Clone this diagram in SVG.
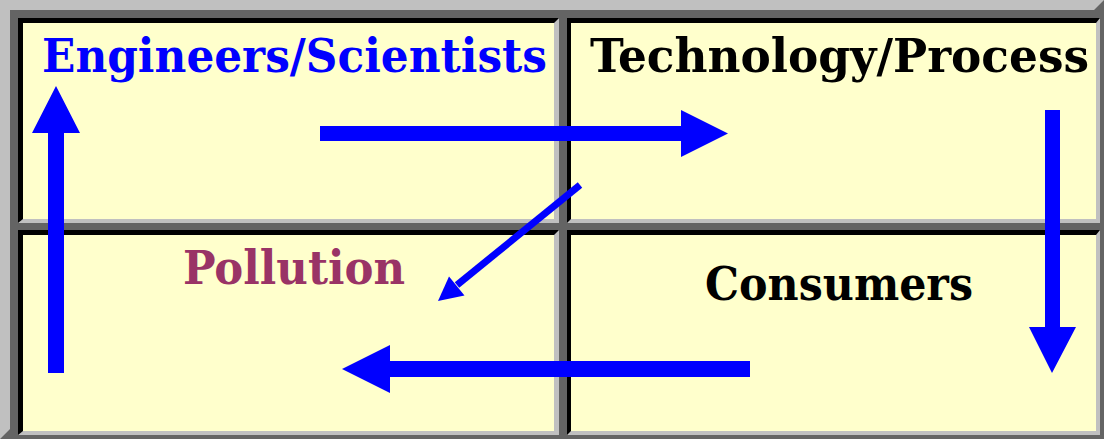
<svg xmlns="http://www.w3.org/2000/svg" width="1104" height="439" viewBox="0 0 1104 439">
<style>
.cell-light{fill:#c0c0c0}
.cell-black{fill:#000000}
.cream{fill:#ffffcc}
.lbl{font-family:"DejaVu Serif","Liberation Serif",serif;font-stretch:condensed;font-weight:bold;font-size:46px}
.arrow{fill:#0000ff}
</style>
<!-- table frame -->
<rect x="0" y="0" width="1104" height="439" fill="#646464"/>
<polygon points="0,0 1104,0 1094,10 10,10 10,429 0,439" fill="#c0c0c0"/>
<g id="cell-engineers">
<rect x="18" y="18" width="541" height="205" class="cell-light"/>
<polygon points="18,18 559,18 554,23 23,23 23,219 18,223" class="cell-black"/>
<rect x="23" y="23" width="531" height="196" class="cream"/>
<text class="lbl" x="42" y="72" fill="#0000ff" textLength="505" lengthAdjust="spacingAndGlyphs">Engineers/Scientists</text>
</g>
<g id="cell-technology">
<rect x="567" y="18" width="533" height="205" class="cell-light"/>
<polygon points="567,18 1100,18 1096,23 571,23 571,219 567,223" class="cell-black"/>
<rect x="571" y="23" width="525" height="196" class="cream"/>
<text class="lbl" x="590" y="72" fill="#000000" textLength="499" lengthAdjust="spacingAndGlyphs">Technology/Process</text>
</g>
<g id="cell-pollution">
<rect x="18" y="230" width="541" height="205" class="cell-light"/>
<polygon points="18,230 559,230 554,235 23,235 23,431 18,435" class="cell-black"/>
<rect x="23" y="235" width="531" height="196" class="cream"/>
<text class="lbl" x="183" y="284" fill="#993366" textLength="222" lengthAdjust="spacingAndGlyphs">Pollution</text>
</g>
<g id="cell-consumers">
<rect x="567" y="230" width="533" height="205" class="cell-light"/>
<polygon points="567,230 1100,230 1096,235 571,235 571,431 567,435" class="cell-black"/>
<rect x="571" y="235" width="525" height="196" class="cream"/>
<text class="lbl" x="705" y="300" fill="#000000" textLength="268" lengthAdjust="spacingAndGlyphs">Consumers</text>
</g>
<g id="connectors">
<polygon class="arrow" points="48,373 64,373 64,133 80,133 56,86 32,133 48,133"/>
<polygon class="arrow" points="320,126 681,126 681,110 728,133.5 681,157 681,141 320,141"/>
<polygon class="arrow" points="1045,110 1060,110 1060,327 1076,327 1052,373 1029,327 1045,327"/>
<polygon class="arrow" points="750,361 390,361 390,345 342,369 390,393 390,377 750,377"/>
<line x1="580" y1="185" x2="457" y2="285" stroke="#0000ff" stroke-width="7"/>
<polygon class="arrow" points="438,301 449,276.5 464.5,295.5"/>
</g>
</svg>
